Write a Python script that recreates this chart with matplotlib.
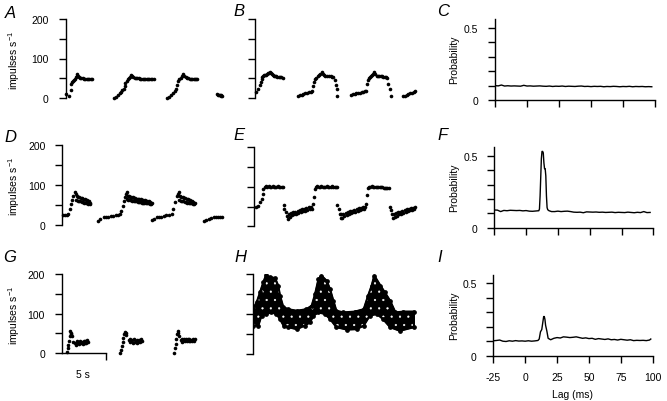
import matplotlib
matplotlib.use('Agg')
import matplotlib.pyplot as plt
import numpy as np

plt.rcParams['font.family'] = ['Liberation Sans', 'DejaVu Sans']
plt.rcParams['mathtext.fontset'] = 'custom'
plt.rcParams['mathtext.rm'] = 'Liberation Sans'
plt.rcParams['mathtext.it'] = 'Liberation Sans:italic'
plt.rcParams['axes.unicode_minus'] = False
plt.rcParams['hatch.linewidth'] = 0.35

# ---------------- data: instantaneous firing rate (impulses/s) vs time (s) ----------------
A_t = [[0.1, 0.35, 0.6, 0.65, 0.75, 0.85, 0.95, 1.05, 1.15, 1.25, 1.35, 1.45, 1.55, 1.65, 1.8, 1.95, 2.1, 2.25, 2.4, 2.55, 2.7, 2.85, 3.0],
       [5.53, 5.72, 5.98, 6.2, 6.34, 6.45, 6.64, 6.7, 6.8, 6.94, 7.05, 7.2, 7.35, 7.47, 7.6, 7.7, 7.85, 8.0, 8.15, 8.3, 8.45, 8.6, 8.75, 8.9, 9.05, 9.2, 9.35, 9.5, 9.65, 9.8, 10.0],
       [11.55, 11.74, 12.0, 12.2, 12.4, 12.57, 12.7, 12.77, 12.9, 13.07, 13.2, 13.37, 13.5, 13.64, 13.8, 13.95, 14.1, 14.25, 14.4, 14.55, 14.7, 14.85, 14.96],
       [17.2, 17.3, 17.4, 17.5, 17.6, 17.7, 17.8]]
A_r = [[10, 6, 21, 35, 40, 42, 45, 48, 52, 56, 60, 55, 52, 51, 50, 50, 49, 49, 49, 48, 48, 48, 47],
       [0, 3, 7, 12, 15, 20, 24, 30, 39, 44, 47, 50, 54, 58, 55, 52, 51, 50, 50, 50, 49, 49, 49, 49, 48, 48, 48, 48, 48, 47, 47],
       [0, 3, 7, 12, 18, 24, 33, 44, 47, 50, 55, 61, 56, 52, 50, 50, 49, 49, 49, 48, 48, 48, 48],
       [9, 8, 7, 7, 7, 6, 6]]

B_t = [[0.11, 0.38, 0.57, 0.68, 0.76, 0.85, 0.95, 1.05, 1.14, 1.25, 1.33, 1.45, 1.55, 1.7, 1.8, 1.9, 2.0, 2.1, 2.25, 2.4, 2.55, 2.7, 2.85, 3.0, 3.2],
       [4.9, 5.1, 5.3, 5.5, 5.7, 5.9, 6.1, 6.3, 6.5, 6.6, 6.7, 6.8, 6.95, 7.1, 7.25, 7.4, 7.6, 7.75, 7.85, 8.0, 8.2, 8.4, 8.6, 8.75, 8.9, 9.1, 9.2, 9.3, 9.35],
       [10.9, 11.1, 11.3, 11.5, 11.7, 11.9, 12.1, 12.3, 12.5, 12.6, 12.76, 12.87, 12.97, 13.07, 13.2, 13.3, 13.4, 13.5, 13.65, 13.8, 13.95, 14.1, 14.25, 14.4, 14.55, 14.7, 14.85, 15.0, 15.15, 15.3, 15.4],
       [16.8, 17.0, 17.2, 17.4, 17.6, 17.8, 18.0, 18.2]]
B_r = [[17, 23, 34, 40, 49, 53, 56, 58, 59, 60, 61, 63, 65, 67, 64, 61, 59, 57, 55, 55, 54, 54, 53, 53, 52],
       [7, 8, 9.5, 11, 13, 14, 16, 17, 19, 31, 42, 49, 52, 55, 58, 61, 67, 62, 59, 57, 56, 55, 55, 54, 54, 45, 34, 23, 7],
       [9.5, 10.5, 11.5, 12.5, 13.5, 14.5, 15, 16, 17.5, 19, 35, 46, 50, 54, 57, 60, 62, 67, 62, 57, 56, 55, 55, 55, 54, 54, 53, 52, 37, 23, 5],
       [5, 7, 9, 11, 13, 14, 16, 18]]

D_t = [[0.12, 0.3, 0.5, 0.69, 0.87, 0.99, 1.1, 1.25, 1.44, 1.55, 1.6, 1.65, 1.75, 1.8, 1.9, 1.95, 2.05, 2.1, 2.2, 2.25, 2.35, 2.4, 2.5, 2.55, 2.65, 2.7, 2.8, 2.85, 2.95, 3.0, 3.1, 3.15],
       [4.0, 4.3, 4.7, 5.0, 5.23, 5.5, 5.8, 6.1, 6.35, 6.55, 6.7, 6.86, 7.0, 7.1, 7.2, 7.3, 7.35, 7.4, 7.5, 7.55, 7.65, 7.7, 7.8, 7.85, 7.95, 8.0, 8.1, 8.15, 8.25, 8.3, 8.4, 8.45, 8.55, 8.6, 8.7, 8.75, 8.85, 8.9, 9.0, 9.05, 9.15, 9.2, 9.3, 9.35, 9.45, 9.5, 9.6, 9.65, 9.75, 9.8, 9.9, 9.95, 10.05, 10.2],
       [10.16, 10.4, 10.7, 11.0, 11.2, 11.5, 11.8, 12.1, 12.4, 12.6, 12.8, 12.99, 13.1, 13.2, 13.3, 13.35, 13.45, 13.5, 13.6, 13.65, 13.75, 13.8, 13.9, 13.95, 14.05, 14.1, 14.2, 14.25, 14.35, 14.4, 14.5, 14.55, 14.65, 14.7, 14.8, 14.85, 14.95, 15.1],
       [16.1, 16.3, 16.6, 16.9, 17.2, 17.5, 17.7, 17.9, 18.1]]
D_r = [[25, 25, 25, 27, 40, 52, 63, 73, 83, 77, 62, 72, 60, 70, 60, 69, 59, 68, 58, 67, 57, 66, 56, 64, 55, 63, 54, 62, 53, 60, 53, 56],
       [11, 15, 19, 20, 21, 22, 23, 25, 26, 27, 36, 48, 61, 70, 77, 83, 64, 73, 63, 72, 62, 71, 62, 70, 61, 69, 60, 68, 60, 67, 59, 66, 58, 65, 58, 64, 57, 64, 56, 63, 56, 62, 55, 62, 55, 61, 54, 60, 54, 59, 53, 58, 53, 55],
       [13, 16, 19, 20, 21, 23, 24, 26, 27, 40, 57, 73, 78, 83, 62, 72, 61, 70, 60, 69, 59, 68, 58, 67, 57, 65, 56, 64, 55, 63, 54, 62, 54, 60, 53, 58, 53, 55],
       [11, 13, 15, 17, 19, 20, 21, 21, 21]]

E_t = [[0.23, 0.5, 0.68, 0.87, 0.98, 1.06, 1.2, 1.35, 1.5, 1.65, 1.8, 1.95, 2.1, 2.25, 2.4, 2.55, 2.7, 2.85, 3.0, 3.15, 3.3, 3.35, 3.45, 3.64, 3.8, 3.9,
        3.95, 4.05, 4.2, 4.3, 4.45, 4.55, 4.7, 4.8, 4.95, 5.05, 5.2, 5.3, 5.45, 5.55, 5.7, 5.8, 5.95, 6.05, 6.2, 6.3, 6.45, 6.55],
       [6.74, 6.8, 6.9, 7.05, 7.2, 7.35, 7.5, 7.65, 7.8, 7.95, 8.1, 8.25, 8.4, 8.55, 8.7, 8.85, 9.0, 9.15, 9.3, 9.4, 9.45, 9.6, 9.8, 9.85,
        9.9, 10.0, 10.15, 10.25, 10.4, 10.5, 10.65, 10.75, 10.9, 11.0, 11.15, 11.25, 11.4, 11.5, 11.65, 11.75, 11.9, 12.0, 12.15, 12.25, 12.4, 12.5, 12.6],
       [12.7, 12.8, 12.9, 13.05, 13.2, 13.35, 13.5, 13.65, 13.8, 13.95, 14.1, 14.25, 14.4, 14.55, 14.7, 14.85, 15.0, 15.15, 15.3, 15.4, 15.5, 15.7, 15.8,
        15.85, 15.95, 16.1, 16.2, 16.35, 16.45, 16.6, 16.7, 16.85, 16.95, 17.1, 17.2, 17.35, 17.45, 17.6, 17.7, 17.85, 17.95, 18.1, 18.2, 18.3]]
E_r = [[48, 51, 61, 69, 82, 95, 100, 101, 100, 101, 100, 100, 101, 100, 100, 100, 101, 100, 100, 100, 100, 54, 45, 37, 25, 18,
        31, 24, 33, 28, 35, 30, 37, 32, 39, 34, 41, 36, 43, 38, 45, 40, 46, 42, 48, 43, 50, 45],
       [56, 73, 94, 100, 101, 100, 100, 101, 100, 100, 100, 101, 100, 100, 100, 101, 100, 100, 100, 99, 54, 44, 31, 21,
        30, 22, 32, 26, 34, 28, 36, 30, 38, 33, 40, 35, 42, 37, 44, 39, 46, 41, 47, 43, 49, 45, 50],
       [56, 78, 96, 100, 100, 101, 100, 100, 100, 99, 100, 99, 99, 99, 98, 98, 98, 98, 98, 50, 42, 31, 21,
        31, 23, 33, 27, 35, 30, 37, 32, 39, 34, 41, 37, 43, 39, 45, 41, 46, 42, 47, 44, 48]]

G_t = [[0.57, 0.68, 0.75, 0.83, 0.9, 0.94, 1.0, 1.05, 1.13, 1.32, 1.5, 1.6, 1.7, 1.8, 1.9, 2.0, 2.1, 2.2, 2.3, 2.4, 2.5, 2.6, 2.7, 2.8, 2.9, 3.0],
       [6.6, 6.74, 6.85, 6.93, 7.0, 7.08, 7.2, 7.25, 7.35, 7.6, 7.7, 7.8, 7.9, 8.0, 8.1, 8.2, 8.3, 8.4, 8.5, 8.6, 8.7, 8.8, 8.9, 9.0, 9.1],
       [12.76, 12.9, 12.95, 13.0, 13.1, 13.2, 13.25, 13.3, 13.5, 13.6, 13.7, 13.8, 13.9, 14.0, 14.1, 14.2, 14.3, 14.4, 14.5, 14.6, 14.7, 14.8, 14.9, 15.0, 15.1]]
G_r = [[3, 13, 21, 31, 43, 55, 48, 52, 44, 28, 27, 22, 30, 25, 28, 23, 31, 26, 29, 24, 32, 27, 30, 25, 33, 28],
       [0, 8, 19, 28, 38, 48, 54, 50, 46, 34, 28, 36, 30, 33, 27, 35, 29, 32, 27, 34, 29, 33, 28, 35, 30],
       [0, 13, 23, 36, 48, 57, 50, 44, 34, 29, 36, 30, 35, 31, 37, 32, 35, 30, 36, 31, 34, 30, 36, 31, 35]]

# H: dense noisy band, upper and lower envelope
H_up_t = [0.0, 0.45, 0.83, 1.2, 1.51, 1.97, 2.53, 2.9, 3.1, 3.48, 4.05, 5.0, 6.1, 6.7, 7.08, 7.46, 7.8, 8.4, 8.78, 9.16, 9.5,
          10.3, 11.6, 12.6, 13.1, 13.5, 13.8, 14.5, 15.0, 15.6, 16.2, 17.1, 18.3]
H_up_r = [112, 129, 154, 179, 197, 192, 190, 171, 146, 117, 112, 108, 112, 121, 150, 187, 196, 183, 162, 133, 108,
          104, 106, 112, 146, 171, 196, 171, 154, 133, 104, 106, 106]
H_lo_t = [0.0, 0.64, 1.0, 1.55, 2.1, 2.7, 3.1, 3.5, 4.05, 5.0, 5.9, 6.5, 6.9, 7.46, 8.2, 8.8, 9.5, 10.7, 11.8, 12.6, 13.3,
          14.1, 14.8, 15.6, 16.7, 18.3]
H_lo_r = [71, 71, 96, 100, 104, 100, 87, 71, 67, 62, 71, 79, 96, 104, 100, 87, 67, 61, 62, 71, 96,
          100, 87, 67, 58, 67]

# ---------------- cross-correlograms ----------------
C_lag = [-25, -22.5, -20, -17.5, -15, -12.5, -10, -7.5, -5, -2.5, 0, 2.5, 5, 7.5, 10, 12.5, 15, 17.5, 20, 22.5, 25, 27.5, 30, 32.5,
         35, 37.5, 40, 42.5, 45, 47.5, 50, 52.5, 55, 57.5, 60, 62.5, 65, 67.5, 70, 72.5, 75, 77.5, 80, 82.5, 85, 87.5, 90, 92.5, 95, 97.5]
C_prob = [.100, .098, .104, .097, .099, .097, .098, .097, .096, .102, .097, .098, .096, .097, .098, .096, .095, .097, .094, .096,
          .095, .097, .094, .096, .095, .094, .096, .097, .094, .095, .093, .095, .094, .095, .092, .094, .093, .095, .094, .092,
          .094, .093, .095, .092, .094, .093, .094, .092, .093, .092]

F_lag = [-25, -22.5, -20, -17.5, -15, -12.5, -10, -7.5, -5, -2.5, 0, 2.5, 5, 7.5, 10, 10.5, 11, 11.5, 12, 12.5, 13, 13.5, 14,
         14.5, 15, 15.5, 16, 16.5, 17, 18, 20, 22.5, 25, 27.5, 30, 32.5, 35, 37.5, 40, 42.5, 45, 47.5, 50, 52.5, 55, 57.5, 60,
         62.5, 65, 67.5, 70, 72.5, 75, 77.5, 80, 82.5, 85, 87.5, 90, 92.5, 95, 97.5]
F_prob = [.123, .122, .112, .120, .118, .121, .120, .119, .120, .117, .119, .115, .114, .116, .118, .13, .22, .35, .48, .53,
          .53, .52, .45, .41, .41, .36, .22, .14, .125, .118, .112, .112, .115, .112, .114, .115, .112, .108, .107, .108,
          .104, .110, .109, .108, .109, .107, .108, .106, .107, .108, .105, .107, .106, .105, .108, .106, .104, .107, .105,
          .112, .105, .106]

I_lag = [-25, -22.5, -20, -17.5, -15, -12.5, -10, -7.5, -5, -2.5, 0, 2.5, 5, 7.5, 10, 11, 12, 13, 14, 14.5, 15, 15.5, 16, 17,
         18, 20, 22.5, 25, 27.5, 30, 32.5, 35, 37.5, 40, 42.5, 45, 47.5, 50, 52.5, 55, 57.5, 60, 62.5, 65, 67.5, 70, 72.5,
         75, 77.5, 80, 82.5, 85, 87.5, 90, 92.5, 95, 97.5, 98.5]
I_prob = [.103, .105, .108, .100, .098, .103, .100, .104, .101, .102, .100, .103, .100, .102, .105, .115, .165, .18, .24, .27,
          .27, .25, .21, .17, .12, .11, .12, .125, .122, .13, .128, .125, .127, .13, .125, .12, .123, .118, .12, .113, .118,
          .115, .112, .116, .11, .112, .108, .113, .11, .107, .11, .104, .106, .105, .106, .104, .108, .115]

rate_ticks = [0, 50, 100, 150, 200]
rate_labels = ['0', '', '100', '', '200']
prob_ticks = [0, 0.1, 0.2, 0.3, 0.4, 0.5]
prob_labels = ['0', '', '', '', '', '0.5']
lag_ticks = [-25, 0, 25, 50, 75, 100]
lag_labels = ['-25', '0', '25', '50', '75', '100']

W, H = 667, 402
fig = plt.figure(figsize=(W / 100, H / 100), dpi=100)


def box(x0, ytop, w, h):
    return [x0 / W, 1 - (ytop + h) / H, w / W, h / H]


FS = 7.5


def rate_axes(rect, labels):
    ax = fig.add_axes(rect)
    ax.set_xlim(0, 18.5)
    ax.set_ylim(0, 200)
    for s in ['top', 'right', 'bottom']:
        ax.spines[s].set_visible(False)
    ax.spines['left'].set_linewidth(1.0)
    ax.set_xticks([])
    ax.set_yticks(rate_ticks)
    ax.set_yticklabels(rate_labels if labels else [''] * 5)
    ax.tick_params(axis='y', direction='out', length=5, width=1.0, pad=7, labelsize=FS)
    ax.patch.set_alpha(0)
    return ax


def plot_segments(ax, ts, rs):
    for t, r in zip(ts, rs):
        ax.plot(t, r, 'o', ms=2.6, mfc='k', mec='k', mew=0, ls='none', clip_on=False)


def corr_axes(rect, lag, prob, xlabels):
    ax = fig.add_axes(rect)
    ax.plot(lag, prob, color='k', lw=1.0)
    ax.set_xlim(-25, 100)
    ax.set_ylim(0, 0.56)
    for s in ['top', 'right']:
        ax.spines[s].set_visible(False)
    ax.spines['left'].set_linewidth(1.0)
    ax.spines['bottom'].set_linewidth(1.0)
    ax.set_yticks(prob_ticks)
    ax.set_yticklabels(prob_labels)
    ax.set_xticks(lag_ticks)
    ax.set_xticklabels(lag_labels if xlabels else [''] * 6)
    ax.tick_params(direction='out', length=5, width=1.0, labelsize=FS)
    ax.tick_params(axis='y', pad=7)
    ax.tick_params(axis='x', pad=7)
    ax.patch.set_alpha(0)
    return ax


axA = rate_axes(box(65.5, 20, 163, 79), True)
plot_segments(axA, A_t, A_r)
axB = rate_axes(box(255, 20, 163, 79.3), False)
plot_segments(axB, B_t, B_r)
axD = rate_axes(box(62.3, 146, 163, 80), True)
plot_segments(axD, D_t, D_r)
axE = rate_axes(box(254, 148.3, 163, 79), False)
plot_segments(axE, E_t, E_r)
axG = rate_axes(box(61.7, 275, 163, 79.3), True)
plot_segments(axG, G_t, G_r)
axG.spines['bottom'].set_visible(True)
axG.spines['bottom'].set_linewidth(1.0)
axG.spines['bottom'].set_bounds(0, 5)
axG.set_xticks([5])
axG.set_xticklabels([''])
axG.tick_params(axis='x', direction='out', length=5, width=1.0)
axH = rate_axes(box(252.7, 275, 163, 80), False)
poly_t = np.concatenate([H_up_t, H_lo_t[::-1]])
poly_r = np.concatenate([H_up_r, H_lo_r[::-1]])
axH.fill(poly_t, poly_r, facecolor='k', edgecolor='k', lw=1.0)
axH.fill(poly_t, poly_r, facecolor='none', edgecolor='white', hatch='..', lw=0)
axH.plot(poly_t, poly_r, color='k', lw=1.5)
axH.plot(H_up_t, H_up_r, 'o', ms=2.4, color='k', ls='none')
axH.plot(H_lo_t, H_lo_r, 'o', ms=2.4, color='k', ls='none')

axC = corr_axes(box(495, 20.4, 160, 80.6), C_lag, C_prob, False)
axF = corr_axes(box(494.3, 148.1, 159, 80.6), F_lag, F_prob, False)
axI = corr_axes(box(493.3, 275.5, 159.4, 81.2), I_lag, I_prob, True)


def ftext(x, y, s, **kw):
    fig.text(x / W, 1 - y / H, s, **kw)


for lab, (x, y) in zip('ABCDEFGHI', [(10, 14), (239, 12), (443, 12), (10, 137), (239, 136), (443, 136),
                                     (10, 257), (240, 258), (440, 258)]):
    ftext(x, y, lab, fontsize=12, style='italic', ha='center', va='center')

for y in [60, 186, 315]:
    ftext(14, y, r'impulses s$^{\mathregular{-1}}$', fontsize=FS, rotation=90, ha='center', va='center')
for y in [60, 188, 316]:
    ftext(454, y, 'Probability', fontsize=FS, rotation=90, ha='center', va='center')

ftext(83, 375, '5 s', fontsize=FS, ha='center', va='center')
ftext(573, 395, 'Lag (ms)', fontsize=FS, ha='center', va='center')

fig.savefig('out.png', dpi=100)
